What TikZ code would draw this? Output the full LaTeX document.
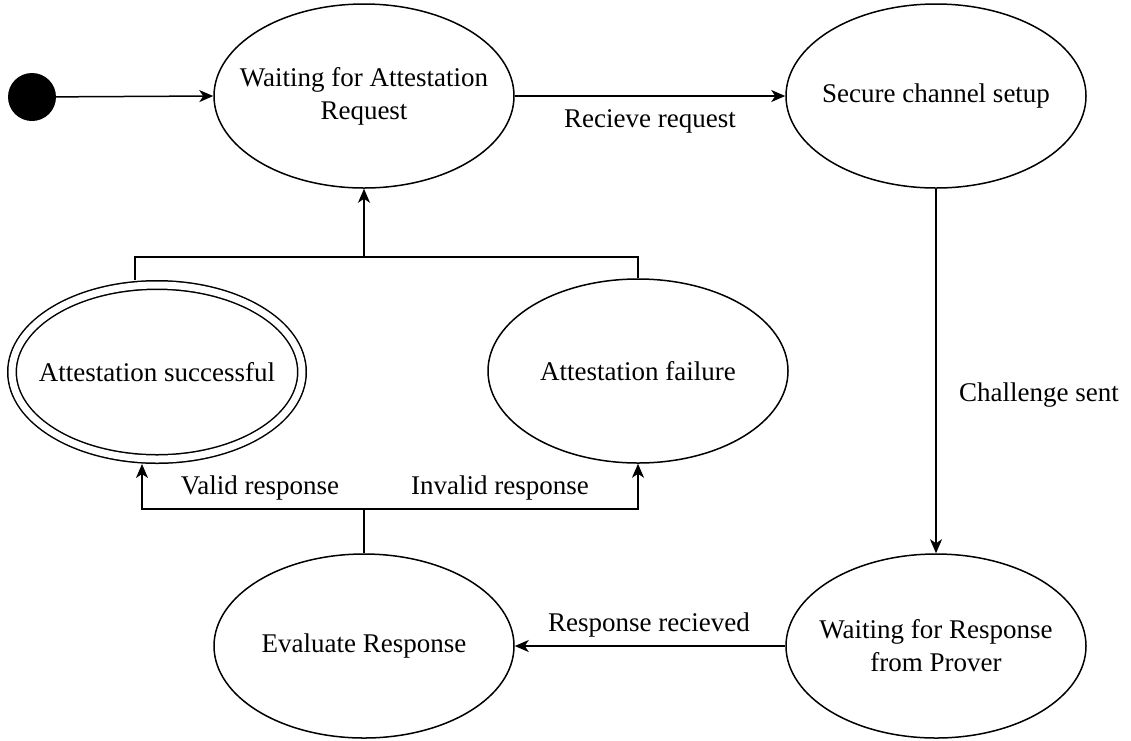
\documentclass[tikz,border=0pt]{standalone}
\usepackage{fontspec}
\setmainfont{Liberation Serif}
\usetikzlibrary{shapes.geometric,arrows.meta}
\begin{document}
\begin{tikzpicture}[x=1pt,y=-1pt,
  every node/.style={font=\fontsize{27}{33}\selectfont},
  state/.style={draw, ellipse, line width=1.5pt, minimum width=300pt, minimum height=184pt, inner sep=0pt},
  finalstate/.style={draw, ellipse, line width=1.5pt, double, double distance=7pt, minimum width=290pt, minimum height=174pt, inner sep=0pt, outer sep=5pt},
  txt/.style={align=center, inner sep=0pt},
  conn/.style={line width=1.5pt},
  arr/.style={conn, -{Stealth[length=14pt, width=12pt, inset=4pt]}},
  lbl/.style={inner sep=0pt}
]
\useasboundingbox (0,0) rectangle (1131,740);
\node[circle, fill=black, minimum size=48pt, inner sep=0pt] (init) at (32,97) {};
\node[state, label={[txt]center:{Waiting for Attestation\\Request}}] (w1) at (364,96) {};
\node[state, label={[txt]center:{Secure channel setup}}] (sc) at (936,96) {};
\node[finalstate, label={[txt]center:{Attestation successful}}] (succ) at (157,372) {};
\node[state, label={[txt]center:{Attestation failure}}] (fail) at (638,371) {};
\node[state, label={[txt]center:{Waiting for Response\\from Prover}}] (wp) at (936,646) {};
\node[state, label={[txt]center:{Evaluate Response}}] (ev) at (364,646) {};

\coordinate (jt) at (364,257);
\coordinate (jb) at (364,509);

\draw[arr] (init) -- (w1.west);
\draw[arr] (w1.east) -- (sc.west);
\draw[arr] (sc.south) -- (wp.north);
\draw[arr] (wp.west) -- (ev.east);
\draw[conn] (ev.north) -- (jb);
\draw[arr] (jb) -| ([xshift=-15pt]succ.south);
\draw[arr] (jb) -| (fail.south);
\draw[arr] (jt) -- (w1.south);
\draw[conn] ([xshift=-22pt]succ.north) |- (jt);
\draw[conn] (fail.north) |- (jt);

\node[lbl] (l1) at (650,121) {Recieve request};
\node[lbl] (l2) at (1039,395) {Challenge sent};
\node[lbl] (l3) at (649,625) {Response recieved};
\node[lbl] (l4) at (260,488) {Valid response};
\node[lbl] (l5) at (500,488) {Invalid response};
\end{tikzpicture}
\end{document}
